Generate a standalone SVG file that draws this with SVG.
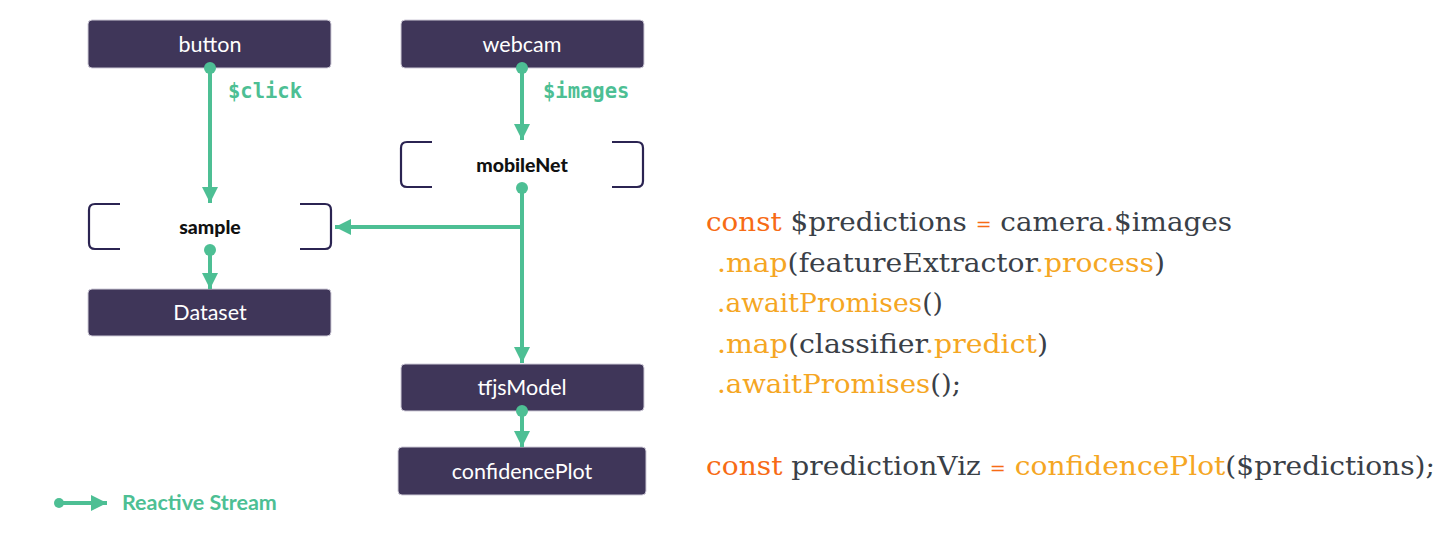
<svg xmlns="http://www.w3.org/2000/svg" width="1442" height="540" viewBox="0 0 1442 540">
<defs>
<style>
.box{fill:#3f3659;stroke:#cfcbd8;stroke-width:1}
.lbl{font-family:Lato,"Open Sans",sans-serif;font-size:21.5px;fill:#ffffff;text-anchor:middle;dominant-baseline:central}
.blbl{font-family:Lato,"Open Sans",sans-serif;font-size:19.5px;font-weight:900;fill:#111;text-anchor:middle;dominant-baseline:central}
.brk{fill:none;stroke:#2b2452;stroke-width:2.2}
.flow{stroke:#4dbf94;stroke-width:4;fill:none}
.dot{fill:#4dbf94}
.mono{font-family:"DejaVu Sans Mono",monospace;font-size:20.5px;font-weight:bold;fill:#4dbf94}
.code{font-family:"DejaVu Serif",serif;font-size:26.5px}
.k{fill:#f76b15}
.i{fill:#3a4047}
.m{fill:#f5a623}
</style>
<marker id="ah" viewBox="0 0 10 10" refX="10" refY="5" markerWidth="4" markerHeight="4" orient="auto" markerUnits="strokeWidth">
<path d="M0,0 L10,5 L0,10 z" fill="#4dbf94"/>
</marker>
</defs>

<g id="button">
<rect class="box" x="88" y="20" width="243" height="48" rx="4"/>
<text class="lbl" x="210" y="44">button</text>
</g>
<g id="webcam">
<rect class="box" x="401" y="20" width="243" height="48" rx="4"/>
<text class="lbl" x="522" y="44">webcam</text>
</g>
<g id="mobileNet">
<path class="brk" d="M432,142 H407 Q401,142 401,148 V181 Q401,187 407,187 H432"/>
<path class="brk" d="M612,142 H637 Q643,142 643,148 V181 Q643,187 637,187 H612"/>
<text class="blbl" x="522" y="164">mobileNet</text>
</g>
<g id="sample">
<path class="brk" d="M120,204 H95 Q89,204 89,210 V243 Q89,249 95,249 H120"/>
<path class="brk" d="M300,204 H325 Q331,204 331,210 V243 Q331,249 325,249 H300"/>
<text class="blbl" x="210" y="226">sample</text>
</g>
<g id="Dataset">
<rect class="box" x="88" y="289" width="243" height="47" rx="4"/>
<text class="lbl" x="210" y="312">Dataset</text>
</g>
<g id="tfjsModel">
<rect class="box" x="401" y="364" width="243" height="47" rx="4"/>
<text class="lbl" x="522" y="387">tfjsModel</text>
</g>
<g id="confidencePlot">
<rect class="box" x="398" y="447" width="248" height="48" rx="4"/>
<text class="lbl" x="522" y="471">confidencePlot</text>
</g>

<g id="connectors">
<circle class="dot" cx="210" cy="68" r="6"/>
<line class="flow" x1="210" y1="68" x2="210" y2="203" marker-end="url(#ah)"/>
<circle class="dot" cx="522" cy="68" r="6"/>
<line class="flow" x1="522" y1="68" x2="522" y2="140" marker-end="url(#ah)"/>
<circle class="dot" cx="522" cy="188" r="6"/>
<line class="flow" x1="522" y1="188" x2="522" y2="363" marker-end="url(#ah)"/>
<line class="flow" x1="522" y1="227" x2="335" y2="227" marker-end="url(#ah)"/>
<circle class="dot" cx="210" cy="250" r="6"/>
<line class="flow" x1="210" y1="250" x2="210" y2="289" marker-end="url(#ah)"/>
<circle class="dot" cx="522" cy="411" r="6"/>
<line class="flow" x1="522" y1="411" x2="522" y2="447" marker-end="url(#ah)"/>
<text class="mono" x="228" y="98">$click</text>
<text class="mono" x="543" y="98">$images</text>
</g>

<g id="legend">
<circle class="dot" cx="59" cy="503" r="5"/>
<line class="flow" x1="59" y1="503" x2="107" y2="503" marker-end="url(#ah)"/>
<text x="122" y="510" style="font-family:Lato,'Open Sans',sans-serif;font-size:21.5px;font-weight:bold;fill:#4dbf94">Reactive Stream</text>
</g>

<g id="code" class="code">
<text x="706" y="231" textLength="526" lengthAdjust="spacingAndGlyphs"><tspan class="k">const</tspan><tspan class="i"> $predictions </tspan><tspan class="k" font-size="18">=</tspan><tspan class="i"> camera</tspan><tspan class="k">.</tspan><tspan class="i">$images</tspan></text>
<text x="717" y="272" textLength="448" lengthAdjust="spacingAndGlyphs"><tspan class="m">.map</tspan><tspan class="i">(featureExtractor</tspan><tspan class="m">.process</tspan><tspan class="i">)</tspan></text>
<text x="717" y="312" textLength="226" lengthAdjust="spacingAndGlyphs"><tspan class="m">.awaitPromises</tspan><tspan class="i">()</tspan></text>
<text x="717" y="353" textLength="331" lengthAdjust="spacingAndGlyphs"><tspan class="m">.map</tspan><tspan class="i">(classifier</tspan><tspan class="m">.predict</tspan><tspan class="i">)</tspan></text>
<text x="717" y="393" textLength="244" lengthAdjust="spacingAndGlyphs"><tspan class="m">.awaitPromises</tspan><tspan class="i">();</tspan></text>
<text x="706" y="475" textLength="729" lengthAdjust="spacingAndGlyphs"><tspan class="k">const</tspan><tspan class="i"> predictionViz </tspan><tspan class="k" font-size="18">=</tspan><tspan class="m"> confidencePlot</tspan><tspan class="i">($predictions);</tspan></text>
</g>
</svg>
